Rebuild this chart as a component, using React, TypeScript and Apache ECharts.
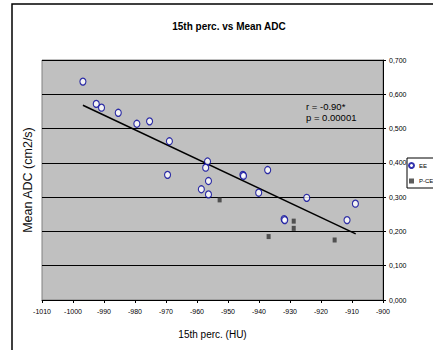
import React, { useEffect, useRef } from "react";
import * as echarts from "echarts";

const eeX = [-996.8, -992.5, -990.8, -985.4, -979.4, -975.3, -968.9, -969.5, -956.6, -957.2, -956.3, -958.6, -956.3, -945.2, -945.0, -937.2, -940.1, -931.9, -931.7, -924.6, -911.6, -908.9];
const eeY = [0.637, 0.572, 0.561, 0.546, 0.514, 0.521, 0.463, 0.365, 0.404, 0.386, 0.347, 0.323, 0.308, 0.365, 0.362, 0.379, 0.313, 0.236, 0.233, 0.298, 0.233, 0.281];
const pceX = [-952.7, -936.9, -928.8, -928.8, -915.6];
const pceY = [0.292, 0.185, 0.23, 0.209, 0.175];
const trendX = [-996.8, -908.8];
const trendY = [0.568, 0.193];
const seriesNames = ["EE", "P-CE"];
const titleText = "15th perc. vs Mean ADC";
const xName = "15th perc. (HU)";
const yName = "Mean ADC (cm2/s)";
const statR = "r = -0.90*";
const statP = "p = 0.00001";

const FONT = "Liberation Sans, Arial, sans-serif";

export default function App() {
  const ref = useRef<HTMLDivElement>(null);
  useEffect(() => {
    if (!ref.current) return;
    const chart = echarts.init(ref.current, null, { renderer: "svg" });
    chart.setOption({
      animation: false,
      backgroundColor: "#fff",
      textStyle: { fontFamily: FONT },
      title: {
        text: titleText,
        left: 224,
        textAlign: "center",
        top: 16,
        textStyle: { fontSize: 10, fontWeight: "bold", color: "#000", fontFamily: FONT },
      },
      grid: {
        left: 42,
        right: 50,
        top: 60,
        bottom: 50,
        show: true,
        backgroundColor: "#c0c0c0",
        borderColor: "#808080",
        borderWidth: 1,
      },
      legend: {
        orient: "vertical",
        left: 407,
        top: 158,
        data: [
          { name: seriesNames[0], icon: "circle" },
          { name: seriesNames[1], icon: "rect" },
        ],
        itemWidth: 5,
        itemHeight: 5,
        itemGap: 9,
        padding: [4, 20, 4, 1],
        borderColor: "#000",
        borderWidth: 1,
        backgroundColor: "#fff",
        textStyle: { fontSize: 6, color: "#000", fontFamily: FONT },
      },
      xAxis: {
        type: "value",
        min: -1010,
        max: -900,
        interval: 10,
        name: xName,
        nameLocation: "middle",
        nameGap: 29,
        nameTextStyle: { fontSize: 10, color: "#000", fontFamily: FONT },
        axisLine: { show: true, lineStyle: { color: "#000", width: 1 } },
        axisTick: { show: true, length: 3, lineStyle: { color: "#000" } },
        axisLabel: {
          fontSize: 7,
          color: "#000",
          margin: 8,
          fontFamily: FONT,
          formatter: (v: number) => String(Math.round(v)),
        },
        splitLine: { show: false },
      },
      yAxis: {
        type: "value",
        position: "right",
        min: 0,
        max: 0.7,
        interval: 0.1,
        axisLine: { show: true, lineStyle: { color: "#000", width: 1 } },
        axisTick: { show: true, length: 3, lineStyle: { color: "#000" } },
        axisLabel: {
          fontSize: 7,
          color: "#000",
          margin: 6,
          fontFamily: FONT,
          formatter: (v: number) => v.toFixed(3).replace(".", ","),
        },
        splitLine: { show: true, lineStyle: { color: "#000", width: 1 } },
      },
      graphic: [
        {
          type: "rect",
          shape: { x: 12, y: 4, width: 440, height: 360 },
          style: { fill: "none", stroke: "#000", lineWidth: 1.5 },
          silent: true,
        },
        {
          type: "text",
          x: 28,
          y: 180,
          rotation: Math.PI / 2,
          style: {
            text: yName,
            fontSize: 12.5,
            fontFamily: FONT,
            fill: "#111",
            align: "center",
            verticalAlign: "middle",
          },
        },
        {
          type: "text",
          x: 306,
          y: 106,
          z: 100,
          style: { text: statR, fontSize: 9.5, fontFamily: FONT, fill: "#000", verticalAlign: "middle" },
        },
        {
          type: "text",
          x: 306,
          y: 117,
          z: 100,
          style: { text: statP, fontSize: 9.5, fontFamily: FONT, fill: "#000", verticalAlign: "middle" },
        },
      ],
      series: [
        {
          name: "trend",
          type: "line",
          data: trendX.map((x, i) => [x, trendY[i]]),
          symbol: "none",
          lineStyle: { color: "#000", width: 1.5 },
          z: 2,
        },
        {
          name: seriesNames[0],
          type: "scatter",
          data: eeX.map((x, i) => [x, eeY[i]]),
          symbol: "circle",
          symbolSize: [6, 7],
          itemStyle: { color: "#fff", borderColor: "#000099", borderWidth: 1.2 },
          z: 3,
        },
        {
          name: seriesNames[1],
          type: "scatter",
          data: pceX.map((x, i) => [x, pceY[i]]),
          symbol: "rect",
          symbolSize: [4, 5],
          itemStyle: { color: "#333333" },
          z: 3,
        },
      ],
    });
    return () => chart.dispose();
  }, []);
  return (
    <div style={{ position: "fixed", left: 0, top: 0, width: 433, height: 350, background: "#fff" }}>
      <div ref={ref} style={{ width: 433, height: 350 }} />
    </div>
  );
}
